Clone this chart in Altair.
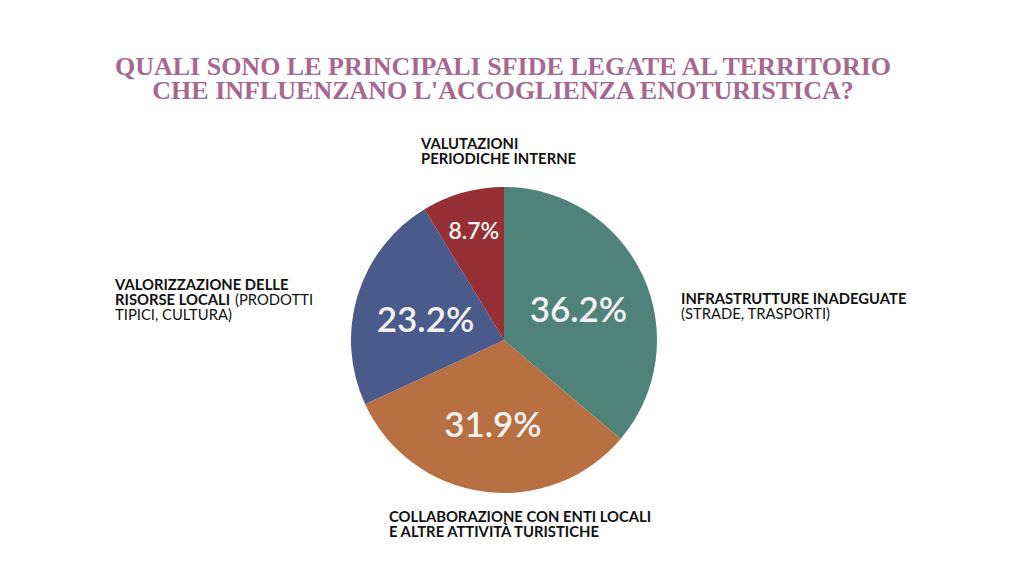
import altair as alt
import pandas as pd

# ---- data ----
categories = [
    "Infrastrutture inadeguate (strade, trasporti)",
    "Collaborazione con enti locali e altre attività turistiche",
    "Valorizzazione delle risorse locali (prodotti tipici, cultura)",
    "Valutazioni periodiche interne",
]
values = [36.2, 31.9, 23.2, 8.7]
colors = ["#4F8379", "#B86F41", "#4A5B8B", "#973035"]
order = [0, 1, 2, 3]

title_lines = [
    "QUALI SONO LE PRINCIPALI SFIDE LEGATE AL TERRITORIO",
    "CHE INFLUENZANO L'ACCOGLIENZA ENOTURISTICA?",
]

df = pd.DataFrame({"categoria": categories, "valore": values, "ordine": order})

PAD_TOP = 100
W, H = 1008, 560 - PAD_TOP
CX, CY = 504 - 8, 340 - 8 - PAD_TOP
R = 153

color_scale = alt.Scale(domain=categories, range=colors)

base = alt.Chart(df).encode(
    theta=alt.Theta("valore:Q", stack=True),
    order=alt.Order("ordine:Q"),
    x=alt.value(CX),
    y=alt.value(CY),
)

pie = base.mark_arc(outerRadius=R).encode(
    color=alt.Color("categoria:N", scale=color_scale, legend=None)
)

pct = base.transform_calculate(
    etichetta="format(datum.valore, '.1f') + '%'"
)

big_txt = pct.mark_text(
    radius=82, dy=5, font="Lato", fontSize=35, fontWeight=600, color="#F2F2F2",
    align="center", baseline="middle",
).encode(
    text="etichetta:N",
    opacity=alt.condition("datum.valore >= 15", alt.value(1), alt.value(0)),
)

small_txt = pct.mark_text(
    radius=112, font="Lato", fontSize=23, fontWeight=600, color="#F2F2F2",
    align="center", baseline="middle",
).encode(
    text="etichetta:N",
    opacity=alt.condition("datum.valore < 15", alt.value(1), alt.value(0)),
)


def line(text, px, py, bold=True):
    return alt.Chart(pd.DataFrame({"t": [text]})).mark_text(
        font="Lato", fontSize=14.8, fontWeight="bold" if bold else "normal",
        color="#111111", align="left", baseline="middle",
    ).encode(
        text="t:N", x=alt.value(px - 8), y=alt.value(py - 8 - PAD_TOP)
    )


labels = [
    line("VALUTAZIONI", 421, 145),
    line("PERIODICHE INTERNE", 421, 160),
    line("VALORIZZAZIONE DELLE", 115, 286),
    line("RISORSE LOCALI", 115, 301),
    line("(PRODOTTI", 235, 301, bold=False),
    line("TIPICI, CULTURA)", 115, 316, bold=False),
    line("INFRASTRUTTURE INADEGUATE", 681, 300),
    line("(STRADE, TRASPORTI)", 681, 315, bold=False),
    line("COLLABORAZIONE CON ENTI LOCALI", 389, 518),
    line("E ALTRE ATTIVITÀ TURISTICHE", 389, 533),
]

chart = alt.layer(pie, big_txt, small_txt, *labels).properties(
    width=W,
    height=H,
    autosize=alt.AutoSizeParams(type="none"),
    padding={"top": PAD_TOP, "left": 0, "right": 0, "bottom": 0},
    title=alt.TitleParams(
        text=title_lines,
        font="Liberation Serif",
        fontSize=26,
        fontWeight="bold",
        color="#A8678E",
        anchor="middle",
        lineHeight=24,
        offset=4,
        dx=-9,
    ),
).configure(background="white", view=alt.ViewConfig(stroke=None))

chart.save("out.html", embed_options={"renderer": "svg", "actions": False})
